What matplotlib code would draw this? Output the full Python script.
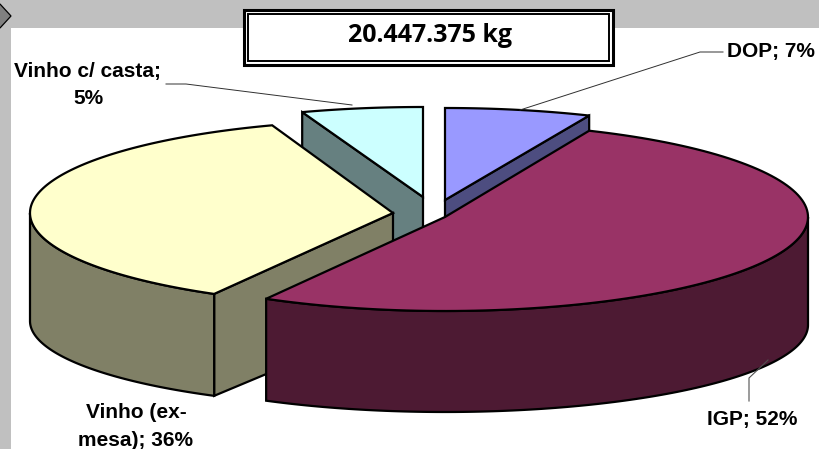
import numpy as np
import matplotlib
matplotlib.use("Agg")
import matplotlib.pyplot as plt
from matplotlib.patches import Polygon, Rectangle

# === Data ===
categories = ["DOP", "IGP", "Vinho (ex-mesa)", "Vinho c/ casta"]
shares = [6.5, 51.7, 36.4, 5.4]
total_label = "20.447.375 kg"

# === Style, one entry per slice ===
top_colors = ["#9999FF", "#993366", "#FFFFCC", "#CCFFFF"]
wall_colors = ["#4D4D80", "#4D1A33", "#808066", "#668080"]
centers = [(445, 200), (445, 217), (393, 213), (423, 197)]
radii_y = [92, 94, 93, 90]
RX = 363
DEPTH = 108
BOTTOM_SQUASH = 7  # lower rim looks flatter than the top one
EDGE = 1.6
draw_order = [3, 0, 2, 1]

plt.rcParams["font.family"] = ["Liberation Sans", "DejaVu Sans"]

fig = plt.figure(figsize=(8.19, 4.49), dpi=100)
ax = fig.add_axes([0, 0, 1, 1])
ax.set_xlim(0, 819)
ax.set_ylim(449, 0)
ax.axis("off")

# === Grey frame behind the chart ===
ax.add_patch(Rectangle((0, 0), 819, 28, fc="#C0C0C0", ec="none", zorder=0))
ax.add_patch(Rectangle((0, 0), 11, 449, fc="#C0C0C0", ec="none", zorder=0))
ax.add_patch(Polygon([(-12, 16), (0, 4), (11, 16), (0, 28)], fc="#808080", ec="black", lw=0.9, zorder=1))


def pt(c, ry, deg, dz=0):
    t = np.radians(deg)
    return (c[0] + RX * np.sin(t), c[1] - ry * np.cos(t) + dz)


def arc(c, ry, a, b, dz=0):
    ts = np.linspace(a, b, 120)
    return [pt(c, ry, d, dz) for d in ts]


edges = np.concatenate([[0], np.cumsum(shares)]) * 3.6

for i in draw_order:
    a, b = edges[i], edges[i + 1]
    c, ry = centers[i], radii_y[i]
    ry_low = ry - BOTTOM_SQUASH
    z = 2 + draw_order.index(i)

    # cut faces, only those turned towards the viewer
    for ang, normal in [(a, a - 90), (b, b + 90)]:
        if np.cos(np.radians(normal)) < -1e-6:
            face = [c, pt(c, ry, ang), pt(c, ry_low, ang, DEPTH), (c[0], c[1] + DEPTH)]
            ax.add_patch(Polygon(face, fc=wall_colors[i], ec="black", lw=EDGE, zorder=z))

    # outer wall, front half of the rim only
    lo, hi = max(a, 90), min(b, 270)
    if hi > lo:
        wall = arc(c, ry, lo, hi) + arc(c, ry_low, hi, lo, DEPTH)
        ax.add_patch(Polygon(wall, fc=wall_colors[i], ec="black", lw=EDGE, zorder=z))

    top = [c] + arc(c, ry, a, b)
    ax.add_patch(Polygon(top, fc=top_colors[i], ec="black", lw=EDGE, zorder=z))

# === Total box ===
ax.add_patch(Rectangle((244, 10), 369, 55, fc="white", ec="black", lw=2.2, zorder=8))
ax.add_patch(Rectangle((248, 14), 361, 47, fc="white", ec="black", lw=1.4, zorder=8))
ax.text(430, 36, total_label, ha="center", va="center", fontsize=18, fontweight="bold",
        family=["Open Sans", "DejaVu Sans"], zorder=9)

# === Data labels and leader lines ===
ax.plot([166, 186, 352], [84, 84, 105], color="#303030", lw=0.7, zorder=7)
ax.plot([723, 700, 520], [52, 52, 110], color="#303030", lw=0.7, zorder=7)
ax.plot([749, 749, 768], [401, 378, 360], color="#505050", lw=0.8, zorder=7)

lab = dict(ha="center", va="center", fontsize=15, fontweight="bold", zorder=9)
ax.text(87, 71, "Vinho c/ casta;", **lab)
ax.text(88, 98, "5%", **lab)
ax.text(771, 52, "DOP; 7%", **lab)
ax.text(752, 419, "IGP; 52%", **lab)
ax.text(136, 412, "Vinho (ex-", **lab)
ax.text(136, 440, "mesa); 36%", **lab)

fig.savefig("out.png", dpi=100)
